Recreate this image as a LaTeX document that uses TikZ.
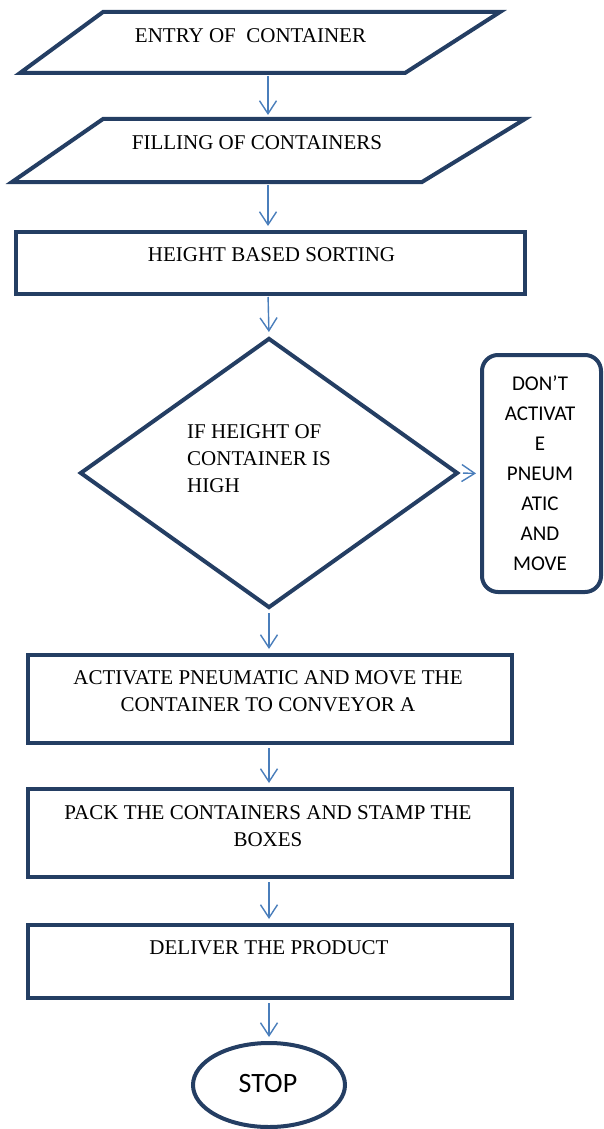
\documentclass[tikz,border=0pt]{standalone}
\usepackage{fontspec}
\setmainfont{Liberation Serif}
\newfontfamily\calfont{Carlito}
\usetikzlibrary{arrows.meta,shapes.geometric}
\definecolor{navy}{RGB}{36,62,99}
\definecolor{flowblue}{RGB}{74,126,187}
\tikzset{
  outline/.style={draw=navy, line width=4pt, line join=miter},
  stepbox/.style={outline, rectangle, inner sep=0pt},
  label/.style={inner sep=0pt, font=\fontsize{21}{27}\selectfont, align=center, text=black},
  sanslabel/.style={inner sep=0pt, font=\calfont\fontsize{21}{30}\selectfont, align=center, text=black},
  flow/.style={draw=flowblue, line width=1.4pt, -{Straight Barb[length=13pt,width=17pt,line width=1.4pt]}, shorten >=4pt, shorten <=3pt}
}
\begin{document}
\begin{tikzpicture}[x=1pt,y=-1pt]
\useasboundingbox (0,0) rectangle (603,1129);

% input parallelograms
\draw[outline] (103,12) -- (500,12) -- (405,73) -- (20,73) -- cycle;
\coordinate (entryS) at (268,73);
\node[label] (entry) at (250.5,36) {ENTRY OF\ \ CONTAINER};

\draw[outline] (103,119) -- (525,119) -- (422,182) -- (12,182) -- cycle;
\coordinate (fillN) at (268,119);
\coordinate (fillS) at (268,182);
\node[label] (fill) at (257,143) {FILLING OF CONTAINERS};

% sorting step
\node[stepbox, minimum width=509pt, minimum height=62pt] (sort) at (270.5,263) {};
\node[label] (sorttxt) at (271.5,255) {HEIGHT BASED SORTING};

% decision
\node[outline, diamond, inner sep=0pt, minimum width=378pt, minimum height=270pt] (dec) at (269,473) {};
\node[label, align=left, anchor=west] (dectxt) at (187,459) {IF HEIGHT OF\\CONTAINER IS\\HIGH};

% side branch
\node[outline, rectangle, rounded corners=16pt, inner sep=0pt, minimum width=119pt, minimum height=237pt] (nomove) at (541.5,473.5) {};
\node[sanslabel] (nomovetxt) at (540,473) {DON’T\\ACTIVAT\\E\\PNEUM\\ATIC\\AND\\MOVE};

% action steps
\node[stepbox, minimum width=484pt, minimum height=88pt] (act) at (270,699) {};
\node[label] (acttxt) at (268,691.5) {ACTIVATE PNEUMATIC AND MOVE THE\\CONTAINER TO CONVEYOR A};

\node[stepbox, minimum width=484pt, minimum height=88pt] (pack) at (270,833) {};
\node[label] (packtxt) at (268,826) {PACK THE CONTAINERS AND STAMP THE\\BOXES};

\node[stepbox, minimum width=484pt, minimum height=73pt] (deliver) at (270,961.5) {};
\node[label] (delivertxt) at (269,948) {DELIVER THE PRODUCT};

% terminator
\node[outline, ellipse, inner sep=0pt, minimum width=152pt, minimum height=84pt] (stop) at (269,1085) {};
\node[sanslabel, font=\calfont\fontsize{28}{30}\selectfont] (stoptxt) at (268,1083) {STOP};

% connectors
\draw[flow] (entryS) -- (fillN);
\draw[flow] (fillS) -- (fillS |- sort.north);
\draw[flow] (268,294) coordinate (sortS) -- (dec.north);
\draw[flow] (dec.south) -- (dec.south |- act.north);
\draw[flow] (dec.east) -- (nomove.west);
\draw[flow] (act.south -| dec.south) -- (dec.south |- pack.north);
\draw[flow] (pack.south -| dec.south) -- (dec.south |- deliver.north);
\draw[flow] (deliver.south -| dec.south) -- (stop.north);
\end{tikzpicture}
\end{document}
